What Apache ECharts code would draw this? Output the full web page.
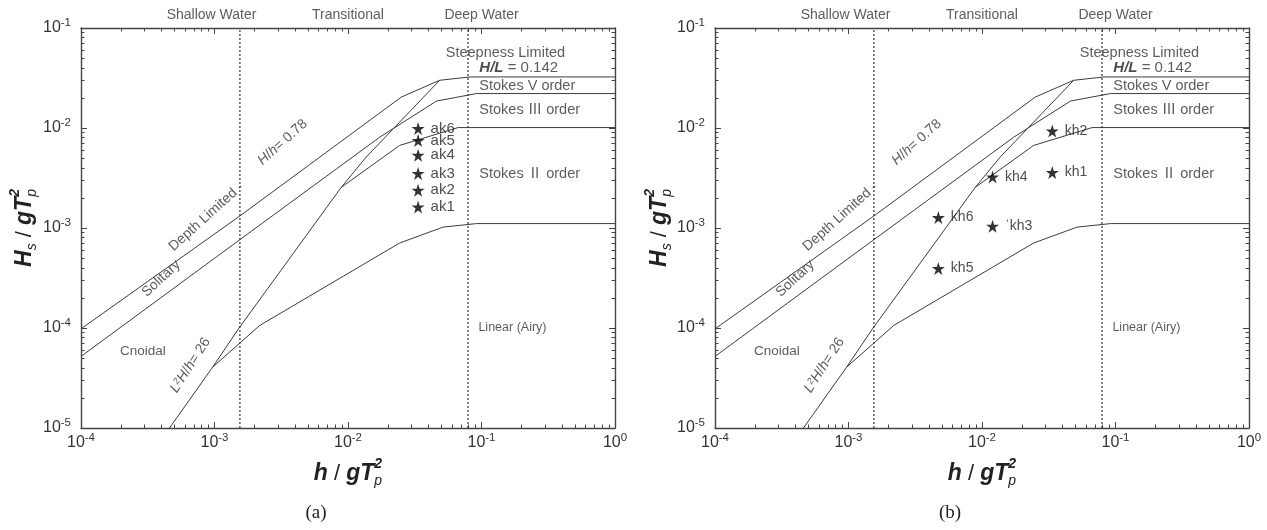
<!DOCTYPE html>
<html><head><meta charset="utf-8">
<script src="https://cdn.jsdelivr.net/npm/echarts@6/dist/echarts.min.js"></script>
<style>html,body{margin:0;padding:0;background:#fff}#c{width:1267px;height:530px}</style>
</head><body><div id="c"></div><script>
// ---------- data ----------
const xTicks = [1e-4, 1e-3, 1e-2, 1e-1, 1];
const yTicks = [1e-5, 1e-4, 1e-3, 1e-2, 1e-1];
const minorMantissa = [2, 3, 4, 5, 6, 7, 8, 9];
const breakingLimit = [[1e-4, 9.8e-5], [1.55e-3, 1.32e-3], [0.0251, 0.0204], [0.0486, 0.030], [0.082, 0.0324], [1, 0.0324]];
const stokesVLimit = [[1e-4, 5.2e-5], [1.55e-3, 7.65e-4], [0.0173, 8.1e-3], [0.046, 0.0186], [0.0918, 0.0221], [1, 0.0221]];
const stokesIIILimit = [[0.0089, 2.55e-3], [0.0244, 6.7e-3], [0.0668, 0.0101], [1, 0.0101]];
const stokesIILimit = [[9.7e-4, 4.07e-5], [2.18e-3, 1.06e-4], [0.0244, 7.08e-4], [0.0515, 1.02e-3], [0.0918, 1.107e-3], [1, 1.107e-3]];
const ursellLimit = [[4.6e-4, 1e-5], [9.7e-4, 4.07e-5], [1.52e-3, 9.9e-5], [0.0089, 2.55e-3], [0.0137, 5.13e-3], [0.0486, 0.030]];
const shallowLimit = [[0.00155, 1e-5], [0.00155, 0.1]];
const deepLimit = [[0.0792, 1e-5], [0.0792, 0.1]];
const akNames = ['ak1', 'ak2', 'ak3', 'ak4', 'ak5', 'ak6'];
const akX = [0.0335, 0.0335, 0.0335, 0.0335, 0.0335, 0.0335];
const akY = [1.62e-3, 2.38e-3, 3.5e-3, 5.33e-3, 7.5e-3, 9.86e-3];
const khNames = ['kh1', 'kh2', 'ˈkh3', 'kh4', 'kh5', 'kh6'];
const khX = [0.0336, 0.0336, 0.012, 0.012, 0.00471, 0.00471];
const khY = [3.59e-3, 9.33e-3, 1.04e-3, 3.24e-3, 3.93e-4, 1.27e-3];

// ---------- helpers ----------
const FONT = '"Liberation Sans", "Noto Sans CJK JP", sans-serif';
const TXT = '#333';
const LINE = '#3c3c3c';
function minors(lo, hi) {
  const out = [];
  for (let e = lo; e < hi; e++) minorMantissa.forEach(m => out.push(m * Math.pow(10, e)));
  return out;
}
const xMinor = minors(-4, 0);
const yMinor = minors(-5, -1);
const powFmt = v => '{b|10}{s|' + Math.round(Math.log10(v)) + '}';
const labRich = {
  b: { fontSize: 16, fontFamily: FONT, color: TXT, lineHeight: 22 },
  s: { fontSize: 11.5, fontFamily: FONT, color: TXT, lineHeight: 12, verticalAlign: 'top' }
};

const grids = [
  { left: 81, top: 28, width: 534, height: 400 },
  { left: 715, top: 28, width: 534, height: 400 }
];

function axisSet(gi, isX) {
  const base = isX
    ? { type: 'log', logBase: 10, min: 1e-4, max: 1, gridIndex: gi, splitLine: { show: false } }
    : { type: 'log', logBase: 10, min: 1e-5, max: 1e-1, gridIndex: gi, splitLine: { show: false } };
  const major = isX ? xTicks : yTicks;
  const minor = isX ? xMinor : yMinor;
  const p1 = isX ? 'bottom' : 'left';
  const p2 = isX ? 'top' : 'right';
  const line = { show: true, onZero: false, lineStyle: { color: '#444', width: 1.4 } };
  return [
    Object.assign({}, base, {
      position: p1, axisLine: line,
      axisTick: { show: true, inside: true, length: 6, customValues: major, lineStyle: { color: '#444' } },
      axisLabel: { show: true, customValues: major, formatter: powFmt, rich: labRich, margin: isX ? 4 : 10 }
    }),
    Object.assign({}, base, {
      position: p1, axisLine: { show: false },
      axisTick: { show: true, inside: true, length: 3.5, customValues: minor, lineStyle: { color: '#444' } },
      axisLabel: { show: false }
    }),
    Object.assign({}, base, {
      position: p2, axisLine: line,
      axisTick: { show: true, inside: true, length: 6, customValues: major, lineStyle: { color: '#444' } },
      axisLabel: { show: false }
    }),
    Object.assign({}, base, {
      position: p2, axisLine: { show: false },
      axisTick: { show: true, inside: true, length: 3.5, customValues: minor, lineStyle: { color: '#444' } },
      axisLabel: { show: false }
    })
  ];
}

function lineSeries(gi, data, dotted) {
  return {
    type: 'line', xAxisIndex: gi * 4, yAxisIndex: gi * 4, data: data,
    symbol: 'none', showSymbol: false, silent: true, animation: false,
    lineStyle: { color: dotted ? '#222' : LINE, width: dotted ? 1.1 : 1, type: dotted ? [2, 2] : 'solid' },
    z: 2
  };
}

const STAR = 'path://M50,0 L61.2,34.5 L97.6,34.5 L68.2,55.9 L79.4,90.5 L50,69.1 L20.6,90.5 L31.8,55.9 L2.4,34.5 L38.8,34.5 Z';
function starSeries(gi, xs, ys, names, fs) {
  return {
    type: 'scatter', xAxisIndex: gi * 4, yAxisIndex: gi * 4, silent: true, animation: false,
    symbol: STAR, symbolSize: 13, itemStyle: { color: '#000' }, z: 5,
    data: xs.map((x, i) => ({ value: [x, ys[i]], name: names[i] })),
    label: { show: true, position: 'right', distance: 6, formatter: '{b}', fontSize: fs, fontFamily: FONT, color: '#222' }
  };
}

const annoRich = {
  i: { fontStyle: 'italic', fontFamily: FONT, fontSize: 14, color: TXT },
  bi: { fontStyle: 'italic', fontWeight: 'bold', fontFamily: FONT, fontSize: 15, color: '#222' },
  sup: { fontSize: 9, fontFamily: FONT, color: TXT, verticalAlign: 'top', lineHeight: 9, fontStyle: 'italic' }
};
const annos = [
  { t: 'Shallow Water', x: 9.5e-4, y: 0.134, size: 14 },
  { t: 'Transitional', x: 0.01, y: 0.134, size: 14 },
  { t: 'Deep Water', x: 0.1, y: 0.134, size: 14 },
  { t: 'Steepness Limited', x: 0.151, y: 0.0558, size: 14.5 },
  { t: '{bi|H/L} = 0.142', x: 0.0955, y: 0.0398, pos: 'right', size: 15 },
  { t: 'Stokes V order', x: 0.0955, y: 0.0261, pos: 'right', size: 14.5 },
  { t: 'Stokes Ⅲ order', x: 0.0955, y: 0.01503, pos: 'right', size: 14.5 },
  { t: 'Stokes Ⅱ order', x: 0.0955, y: 3.44e-3, pos: 'right', size: 14.5 },
  { t: 'Linear (Airy)', x: 0.094, y: 1e-4, pos: 'right', size: 12.5 },
  { t: 'Cnoidal', x: 1.94e-4, y: 5.9e-5, pos: 'right', size: 13.5 },
  { t: '{i|H}/{i|h}= 0.78', x: 3.24e-3, y: 7.2e-3, rot: 42, size: 14 },
  { t: 'Depth Limited -', x: 8.68e-4, y: 1.29e-3, rot: 42, size: 14 },
  { t: 'Solitary', x: 3.99e-4, y: 3.12e-4, rot: 43, size: 14 },
  { t: '{i|L}{sup|2}{i|H}/{i|h}= 26', x: 6.59e-4, y: 4.24e-5, rot: 57, size: 14 }
];
function annoSeries(gi) {
  return {
    type: 'scatter', xAxisIndex: gi * 4, yAxisIndex: gi * 4, silent: true, animation: false,
    clip: false, symbolSize: 1, itemStyle: { color: 'rgba(0,0,0,0)' }, z: 6,
    data: annos.map(a => ({
      value: [a.x, a.y],
      label: {
        show: true, position: a.pos || 'inside', distance: 0, rotate: a.rot || 0,
        formatter: a.t, fontSize: a.size, fontFamily: FONT, color: TXT, rich: annoRich
      }
    }))
  };
}

// ---------- axis titles (graphic) ----------
const mctx = document.createElement('canvas').getContext('2d');
function tw(t, f) { mctx.font = f; return mctx.measureText(t).width; }
const FB = 'italic bold 23px "Liberation Sans"';
const FN = '22px "Liberation Sans"';
const FS = 'italic 14px "Liberation Sans"';
const FSB = 'bold italic 14px "Liberation Sans"';
function titleGroup(cx, cy, rot, first) {
  const pieces = [];
  let x = 0;
  const add = (t, f, dy) => { pieces.push({ t, f, x, dy }); x += tw(t, f); };
  if (first === 'H') { add('H', FB, 0); add('s', FS, 7); }
  else { add('h', FB, 0); }
  add(' / ', FN, 0);
  add('gT', FB, 0);
  const sx = x;
  pieces.push({ t: '2', f: FSB, x: sx, dy: -10 });
  pieces.push({ t: 'p', f: FS, x: sx, dy: 7 });
  x += tw('2', FSB);
  const W = x;
  return {
    type: 'group', x: cx, y: cy, rotation: rot, silent: true,
    children: pieces.map(p => ({
      type: 'text', x: p.x - W / 2, y: p.dy,
      style: { text: p.t, font: p.f, fill: '#222', align: 'left', verticalAlign: 'middle' }
    }))
  };
}

const series = [];
[0, 1].forEach(gi => {
  series.push(lineSeries(gi, breakingLimit));
  series.push(lineSeries(gi, stokesVLimit));
  series.push(lineSeries(gi, stokesIIILimit));
  series.push(lineSeries(gi, stokesIILimit));
  series.push(lineSeries(gi, ursellLimit));
  series.push(lineSeries(gi, shallowLimit, true));
  series.push(lineSeries(gi, deepLimit, true));
  series.push(annoSeries(gi));
});
series.push(starSeries(0, akX, akY, akNames, 15));
series.push(starSeries(1, khX, khY, khNames, 14));

const chart = echarts.init(document.getElementById('c'), null, { renderer: 'canvas' });
chart.setOption({
  animation: false,
  backgroundColor: '#fff',
  grid: grids.map(g => Object.assign({ outerBoundsMode: 'none', containLabel: false }, g)),
  xAxis: axisSet(0, true).concat(axisSet(1, true)),
  yAxis: axisSet(0, false).concat(axisSet(1, false)),
  series: series,
  graphic: [
    titleGroup(348, 474, 0, 'h'),
    titleGroup(982, 474, 0, 'h'),
    titleGroup(25, 228, Math.PI / 2, 'H'),
    titleGroup(660, 228, Math.PI / 2, 'H'),
    { type: 'text', x: 316, y: 513, silent: true, style: { text: '(a)', font: '19px "Liberation Serif"', fill: '#222', align: 'center', verticalAlign: 'middle' } },
    { type: 'text', x: 950, y: 513, silent: true, style: { text: '(b)', font: '19px "Liberation Serif"', fill: '#222', align: 'center', verticalAlign: 'middle' } }
  ]
});
</script></body></html>
